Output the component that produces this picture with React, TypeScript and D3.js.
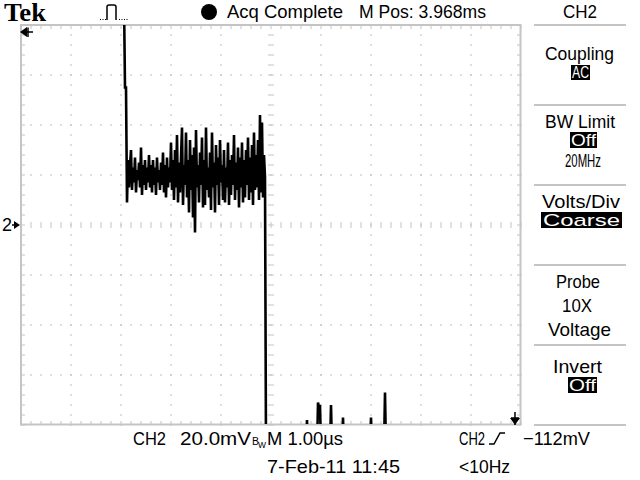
import React from 'react';
import * as d3 from 'd3';

// Oscilloscope settings
const voltsPerDivMv = 20; // CH2 20.0 mV/div
const timePerDivUs = 1; // M 1.00 us/div
const sampleIntervalUs = 0.02;

// Leading part of the record (above screen, then short step)
const leadTimes = [0, 2.06, 2.08, 2.1];
const leadValues = [90, 90, 55, 55];

// Noisy plateau samples (mV), one per sample interval starting at noiseStartUs
const noiseStartUs = 2.12;
const noiseValues = [
  9, 26, 15, 24, 30, 14, 23, 17, 27, 13, 22, 18, 25, 15, 31, 12, 24, 16, 26, 14,
  23, 17, 28, 15, 24, 13, 26, 16, 23, 12, 27, 17, 22, 14, 25, 16, 29, 13, 24, 11,
  27, 15, 23, 17,
  33, 14, 26, 10, 30, 15, 36, 9, 25, 13,
  27, 39, 8, 24, 16, 37, 11, 26, 5, 34,
  14, 28, 3, 31, -3, 38, 15, 24, 9, 29,
  16, 35, 7, 26, 8, 39, 14, 23, 11, 29,
  6, 37, 15, 25, 5, 32, 16, 27, 8, 34,
  17, 24, 10, 30, 9, 23, 15, 33, 8, 26,
  12, 28, 16, 36, 10, 25, 14, 31, 7, 27,
  15, 33, 9, 26, 11, 30, 16, 35, 10, 27,
  13, 32, 8, 37, 14, 28, 15, 34, 10, 44,
  13, 41, 11, 28, 19,
];

// Tail after the fall (below screen with a few glitches)
const tailTimes = [4.9, 5.7, 5.72, 5.74, 5.92, 5.94, 5.96, 5.98, 6.0, 6.18, 6.2, 6.22, 6.42, 6.44, 6.46, 6.98, 7.0, 7.02, 7.26, 7.28, 7.3, 10];
const tailValues = [-90, -90, -78, -90, -90, -71, -73, -72, -90, -90, -72, -90, -90, -77, -90, -90, -77, -90, -90, -67, -90, -90];

const FONT = '"Liberation Sans", Arial, sans-serif';
const GRID = '#c4c4c4';
const FS = 18.5;

function T({ x, y, w, s = FS, fill = '#000', children, weight = 'normal', family = FONT }: any) {
  return (
    <text x={x} y={y} fontSize={s} fill={fill} fontFamily={family} fontWeight={weight}
      textLength={w} lengthAdjust="spacingAndGlyphs">{children}</text>
  );
}

export default function App() {
  const X0 = 21, X1 = 521, Y0 = 25, Y1 = 425;
  const x = d3.scaleLinear().domain([0, 10 * timePerDivUs]).range([X0, X1]);
  const y = d3.scaleLinear().domain([-4 * voltsPerDivMv, 4 * voltsPerDivMv]).range([Y1, Y0]);

  const pts: [number, number][] = [];
  leadTimes.forEach((t, i) => pts.push([t, leadValues[i]]));
  noiseValues.forEach((v, i) => pts.push([noiseStartUs + i * sampleIntervalUs, v]));
  tailTimes.forEach((t, i) => pts.push([t, tailValues[i]]));
  const line = d3.line<[number, number]>().x(d => x(d[0])).y(d => y(d[1]));

  const xTicks = d3.range(0, 10 * timePerDivUs + 1e-9, timePerDivUs / 5);
  const yTicks = d3.range(-4 * voltsPerDivMv, 4 * voltsPerDivMv + 1e-9, voltsPerDivMv / 5);
  const xMajor = d3.range(1, 10).map(i => i * timePerDivUs);
  const yMajor = d3.range(-3, 4).map(i => i * voltsPerDivMv);

  const grid: React.ReactNode[] = [];
  xMajor.forEach((t, i) => {
    if (t === 5 * timePerDivUs) return;
    yTicks.forEach((v, j) => grid.push(<rect key={`vx${i}-${j}`} x={x(t) - 0.75} y={y(v) - 0.75} width={1.5} height={1.5} fill={GRID} />));
  });
  yMajor.forEach((v, i) => {
    if (v === 0) return;
    xTicks.forEach((t, j) => grid.push(<rect key={`hy${i}-${j}`} x={x(t) - 0.75} y={y(v) - 0.75} width={1.5} height={1.5} fill={GRID} />));
  });
  xTicks.forEach((t, j) => {
    grid.push(<line key={`ct${j}`} x1={x(t)} x2={x(t)} y1={y(0) - 3} y2={y(0) + 3} stroke={GRID} strokeWidth={1} />);
    grid.push(<line key={`tt${j}`} x1={x(t)} x2={x(t)} y1={Y0} y2={Y0 + 4} stroke={GRID} strokeWidth={1} />);
    grid.push(<line key={`bt${j}`} x1={x(t)} x2={x(t)} y1={Y1 - 4} y2={Y1} stroke={GRID} strokeWidth={1} />);
  });
  yTicks.forEach((v, j) => {
    grid.push(<line key={`cv${j}`} x1={x(5) - 3} x2={x(5) + 3} y1={y(v)} y2={y(v)} stroke={GRID} strokeWidth={1} />);
    grid.push(<line key={`lt${j}`} x1={X0} x2={X0 + 4} y1={y(v)} y2={y(v)} stroke={GRID} strokeWidth={1} />);
    grid.push(<line key={`rt${j}`} x1={X1 - 4} x2={X1} y1={y(v)} y2={y(v)} stroke={GRID} strokeWidth={1} />);
  });

  const sepYs = [25, 105, 185, 265, 345, 425];

  return (
    <svg width={640} height={480} style={{ position: 'absolute', left: 0, top: 0, background: '#fff' }}>
      <rect x={0} y={0} width={640} height={480} fill="#fff" />
      <defs>
        <clipPath id="scr"><rect x={X0} y={Y0} width={X1 - X0} height={Y1 - Y0 - 1} /></clipPath>
      </defs>
      <rect x={X0} y={Y0} width={X1 - X0 - 0.5} height={Y1 - Y0 - 0.5} fill="none" stroke={GRID} strokeWidth={2} />
      {grid}
      <path d={line(pts) || ''} fill="none" stroke="#000" strokeWidth={2.6} strokeLinejoin="miter" strokeMiterlimit={2} clipPath="url(#scr)" />

      {/* top status bar */}
      <T x={4} y={21} w={42} s={25} weight="bold" family='"Liberation Serif", serif'>Tek</T>
      <path d="M100,19.5 h1 M102.5,19.5 h1 M105,19.5 h1" stroke="#000" strokeWidth={1.2} />
      <path d="M107,20 V7 Q107,5 109,5 H114 Q116,5 116,7 V20" fill="none" stroke="#000" strokeWidth={1.5} />
      <path d="M119,19.5 h1 M121.5,19.5 h1 M124,19.5 h1 M126.5,19.5 h1" stroke="#000" strokeWidth={1.2} />
      <circle cx={209} cy={12} r={8} fill="#000" />
      <T x={227} y={18} w={116}>Acq Complete</T>
      <T x={359} y={18} w={127}>M Pos: 3.968ms</T>
      <T x={563} y={18} w={34}>CH2</T>

      {sepYs.map((sy, i) => <line key={`sep${i}`} x1={534} x2={626} y1={sy} y2={sy} stroke={GRID} strokeWidth={2} />)}

      <T x={545} y={60} w={69}>Coupling</T>
      <rect x={571} y={65} width={19} height={15} fill="#000" />
      <T x={572} y={78} w={17} s={16}>
        <tspan fill="#fff">AC</tspan>
      </T>
      <T x={545} y={128} w={70}>BW Limit</T>
      <rect x={570} y={132} width={27} height={16} fill="#000" />
      <T x={571} y={146} w={25} s={17} fill="#fff">Off</T>
      <T x={565} y={167} w={36}>20MHz</T>
      <T x={542} y={208} w={78}>Volts/Div</T>
      <rect x={541} y={212} width={81} height={16} fill="#000" />
      <T x={543} y={226} w={77} s={17} fill="#fff">Coarse</T>
      <T x={556} y={288} w={44}>Probe</T>
      <T x={562} y={312} w={30}>10X</T>
      <T x={548} y={336} w={63}>Voltage</T>
      <T x={553} y={373} w={49}>Invert</T>
      <rect x={568} y={377} width={29} height={16} fill="#000" />
      <T x={569} y={391} w={27} s={17} fill="#fff">Off</T>

      {/* markers */}
      <path d="M20,32 L27,27 L27,37 Z" fill="#000" />
      <path d="M27,32 H33 M28,27.5 V37" stroke="#000" strokeWidth={1.5} />
      <T x={2} y={231} w={10} s={18}>2</T>
      <path d="M20,225 L14,221 L14,229 Z" fill="#000" />
      <path d="M12,225 H16" stroke="#000" strokeWidth={1.5} />
      <path d="M510,418 L520,418 L515,425 Z" fill="#000" />
      <path d="M515,412 V425 M511,418 H519" stroke="#000" strokeWidth={1.5} />

      {/* bottom readouts */}
      <T x={133} y={445} w={33}>CH2</T>
      <T x={180} y={445} w={71}>20.0mV</T>
      <T x={252} y={445} w={7} s={10}>B</T>
      <T x={258} y={448} w={8} s={9}>W</T>
      <T x={267} y={445} w={76}>M 1.00µs</T>
      <T x={459} y={445} w={26}>CH2</T>
      <path d="M489,444 H494 L500,433 H505" fill="none" stroke="#000" strokeWidth={1.5} />
      <T x={523} y={445} w={67}>−112mV</T>
      <T x={267} y={473} w={133}>7-Feb-11 11:45</T>
      <T x={459} y={473} w={51}>&lt;10Hz</T>
    </svg>
  );
}
